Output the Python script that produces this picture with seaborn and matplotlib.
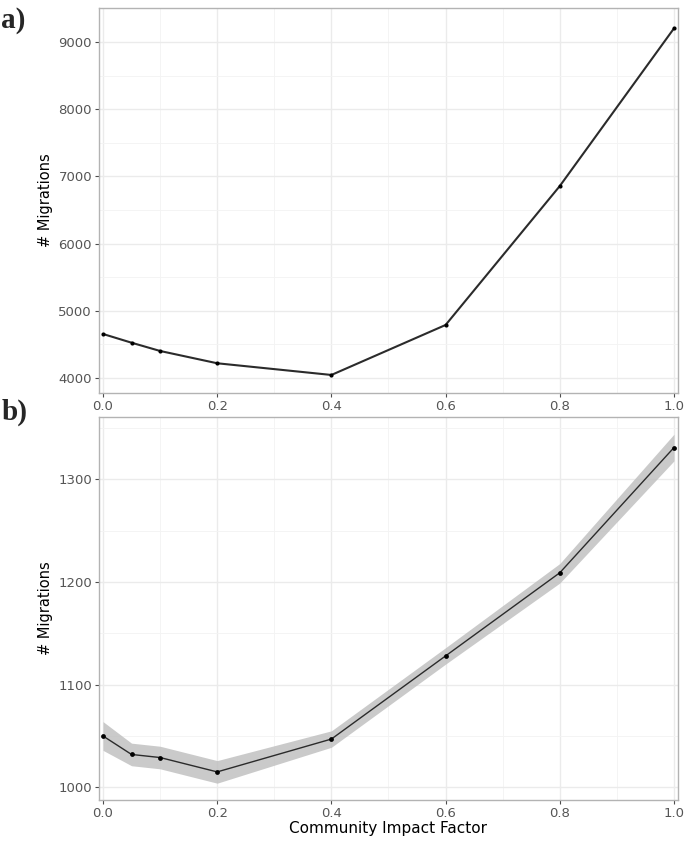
import numpy as np
import pandas as pd
import matplotlib
matplotlib.use("Agg")
import matplotlib.pyplot as plt
import seaborn as sns
from matplotlib.ticker import MultipleLocator

# panel a) values
cif_a = [0.0, 0.05, 0.1, 0.2, 0.4, 0.6, 0.8, 1.0]
migr_a = [4655, 4525, 4402, 4219, 4045, 4789, 6857, 9204]

# panel b) values with confidence band
cif_b = [0.0, 0.05, 0.1, 0.2, 0.4, 0.6, 0.8, 1.0]
migr_b = [1050, 1032, 1029, 1015, 1047, 1128, 1209, 1331]
low_b = [1036, 1021, 1018, 1004, 1039, 1120, 1199, 1318]
high_b = [1064, 1043, 1040, 1026, 1055, 1136, 1218, 1344]

df_a = pd.DataFrame({"cif": cif_a, "migr": migr_a})
df_b = pd.DataFrame({"cif": cif_b, "migr": migr_b, "low": low_b, "high": high_b})

sns.set_theme(style="whitegrid")
plt.rcParams["font.family"] = ["DejaVu Sans"]

fig = plt.figure(figsize=(6.85, 8.44), dpi=100)
ax_a = fig.add_axes([0.1445, 0.5344, 0.8453, 0.4561])
ax_b = fig.add_axes([0.1445, 0.0521, 0.8453, 0.4538])

line_col = "#2b2b2b"

# a)
sns.lineplot(data=df_a, x="cif", y="migr", ax=ax_a, color=line_col, linewidth=1.5)
sns.scatterplot(data=df_a, x="cif", y="migr", ax=ax_a, color="black", s=9, linewidth=0, zorder=4)
ax_a.set_ylim(3777, 9506)
ax_a.yaxis.set_major_locator(MultipleLocator(1000))
ax_a.yaxis.set_minor_locator(MultipleLocator(500))

# b)
ax_b.fill_between(df_b["cif"], df_b["low"], df_b["high"], color="#bdbdbd", alpha=0.8, linewidth=0, zorder=2)
sns.lineplot(data=df_b, x="cif", y="migr", ax=ax_b, color=line_col, linewidth=1.0, zorder=3)
sns.scatterplot(data=df_b, x="cif", y="migr", ax=ax_b, color="black", s=12, linewidth=0, zorder=4)
ax_b.set_ylim(987.6, 1360.7)
ax_b.yaxis.set_major_locator(MultipleLocator(100))
ax_b.yaxis.set_minor_locator(MultipleLocator(50))

for ax in (ax_a, ax_b):
    ax.set_xlim(-0.007, 1.007)
    ax.xaxis.set_major_locator(MultipleLocator(0.2))
    ax.xaxis.set_minor_locator(MultipleLocator(0.1))
    ax.xaxis.set_major_formatter(matplotlib.ticker.FormatStrFormatter("%.1f"))
    ax.set_facecolor("white")
    ax.grid(which="major", color="#ebebeb", linewidth=1.0)
    ax.grid(which="minor", color="#f3f3f3", linewidth=0.6)
    ax.set_axisbelow(True)
    for s in ax.spines.values():
        s.set_color("#b3b3b3")
        s.set_linewidth(1.0)
    ax.tick_params(which="major", length=3, width=0.8, color="#4d4d4d",
                   labelsize=9.5, labelcolor="#555555", pad=2,
                   bottom=True, left=True)
    ax.tick_params(which="minor", length=0)
    ax.set_ylabel("# Migrations", fontsize=10.5, color="black", labelpad=4)
    ax.set_xlabel("")

ax_b.set_xlabel("Community Impact Factor", fontsize=11, color="black", labelpad=1)

fig.text(0.002, 0.992, "a)", fontsize=21, fontweight="bold", family="Liberation Serif", va="top")
fig.text(0.002, 0.528, "b)", fontsize=21, fontweight="bold", family="Liberation Serif", va="top")

fig.savefig("out.png", dpi=100, facecolor="white")
